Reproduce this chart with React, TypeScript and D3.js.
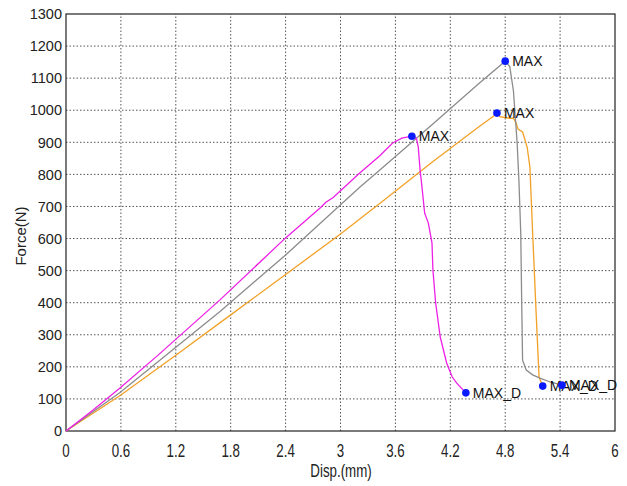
import React from 'react';
import * as d3 from 'd3';

// displacement (mm) / force (N)
const magenta: [number, number][] = [
  [0, 0], [0.3, 66], [0.59, 134], [1.0, 235], [1.68, 408], [2.4, 602], [2.78, 696],
  [2.84, 713], [2.92, 728], [3.21, 804], [3.43, 858], [3.57, 898], [3.67, 913],
  [3.78, 919], [3.83, 912], [3.85, 885], [3.87, 813], [3.89, 762], [3.92, 679],
  [3.96, 648], [4.0, 586], [4.01, 502], [4.04, 399], [4.09, 293], [4.16, 212],
  [4.22, 169], [4.27, 149], [4.37, 119],
];
const gray: [number, number][] = [
  [0, 0], [0.59, 120], [1.68, 372], [2.4, 549], [3.21, 760], [3.43, 814], [4.0, 955],
  [4.5, 1080], [4.8, 1153], [4.85, 1136], [4.89, 1060], [4.93, 900], [4.95, 780],
  [4.97, 616], [4.98, 408], [4.99, 221], [5.03, 190], [5.1, 175], [5.18, 165],
  [5.3, 152], [5.42, 143],
];
const orange: [number, number][] = [
  [0, 0], [0.6, 112], [1.2, 236], [1.8, 362], [2.4, 488], [3.0, 614], [3.46, 716],
  [4.0, 838], [4.52, 950], [4.69, 985], [4.71, 991], [4.74, 980], [4.85, 975],
  [4.89, 975], [4.92, 960], [4.94, 941], [4.99, 932], [5.04, 885], [5.07, 823],
  [5.1, 617], [5.14, 355], [5.17, 168], [5.21, 140],
];

const xTicks = [0, 0.6, 1.2, 1.8, 2.4, 3, 3.6, 4.2, 4.8, 5.4, 6];
const yTicks = d3.range(0, 1301, 100);

const series = [
  { data: orange, color: '#f2a126' },
  { data: gray, color: '#8c8c8c' },
  { data: magenta, color: '#ee1fe6' },
];

const W = 627;
const H = 486;

export default function App() {
  const x = d3.scaleLinear().domain([0, 6]).range([66, 615]);
  const y = d3.scaleLinear().domain([0, 1300]).range([431, 14]);
  const line = d3
    .line<[number, number]>()
    .x((d) => x(d[0]))
    .y((d) => y(d[1]));

  const font = 'Liberation Sans, Arial, sans-serif';

  return (
    <svg
      width={W}
      height={H}
      style={{ position: 'absolute', left: 0, top: 0, background: 'white' }}
    >
      {/* grid */}
      {xTicks.slice(1, -1).map((t) => (
        <line key={'gx' + t} x1={x(t)} x2={x(t)} y1={y(0)} y2={y(1300)}
          stroke="#555" strokeDasharray="1.5,2" strokeWidth={1} />
      ))}
      {yTicks.slice(1, -1).map((t) => (
        <line key={'gy' + t} x1={x(0)} x2={x(6)} y1={y(t)} y2={y(t)}
          stroke="#555" strokeDasharray="1.5,2" strokeWidth={1} />
      ))}
      {/* frame */}
      <rect x={x(0)} y={y(1300)} width={x(6) - x(0)} height={y(0) - y(1300)}
        fill="none" stroke="#222" strokeWidth={1.2} />

      {/* curves */}
      {series.map((s, i) => (
        <path key={i} d={line(s.data) || ''} fill="none" stroke={s.color} strokeWidth={1.3} />
      ))}

      {/* markers */}
      {series.map((s, i) => {
        const m = s.data[d3.maxIndex(s.data, (d) => d[1])];
        const e = s.data[s.data.length - 1];
        return (
          <g key={'m' + i}>
            <circle cx={x(m[0])} cy={y(m[1])} r={3.8} fill="#0a1aff" />
            <text x={x(m[0]) + 7} y={y(m[1])} dy="0.36em" fontSize={14} fontFamily={font} fill="#111">MAX</text>
            <circle cx={x(e[0])} cy={y(e[1])} r={3.8} fill="#0a1aff" />
            <text x={x(e[0]) + 7} y={y(e[1])} dy="0.36em" fontSize={14} fontFamily={font} fill="#111">MAX_D</text>
          </g>
        );
      })}

      {/* y ticks */}
      {yTicks.map((t) => (
        <text key={'ly' + t} x={62} y={y(t)} dy="0.36em" textAnchor="end"
          fontSize={14.5} fontFamily={font} fill="#222">{t}</text>
      ))}
      {/* x ticks */}
      {xTicks.map((t) => (
        <text key={'lx' + t} transform={`translate(${x(t)},457) scale(0.74,1)`}
          textAnchor="middle" fontSize={18} fontFamily={font} fill="#222">{t}</text>
      ))}
      <text transform="translate(341,477) scale(0.74,1)" textAnchor="middle"
        fontSize={18} fontFamily={font} fill="#222">Disp.(mm)</text>
      <text transform="translate(26,236) rotate(-90)" textAnchor="middle"
        fontSize={15} fontFamily={font} fill="#222">Force(N)</text>
    </svg>
  );
}
